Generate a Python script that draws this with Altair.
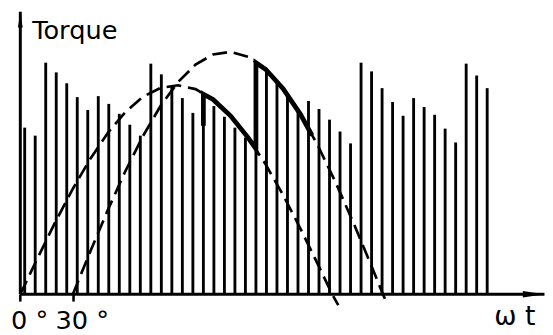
import altair as alt
import pandas as pd

FONT = "DejaVu Sans"

# --- stems (pulse torque), angle in degrees, torque in arbitrary units ---
stem_angle = [2.5, 8.5, 14.5, 20.5, 26.5, 32.5, 38.5, 44.5, 50.5, 56.5,
              62.5, 68.5, 74.5, 80.5, 86.5, 92.5, 98.5, 104.5, 110.5, 116.5,
              122.5, 128.5, 134.5, 140.5, 146.5, 152.5, 158.5, 164.5, 170.5, 176.5,
              182.5, 188.5, 194.5, 200.5, 206.5, 212.5, 218.5, 224.5, 230.5, 236.5,
              242.5, 248.5, 254.5, 260.5, 266.5]
stem_torque = [68.7, 65.4, 95.5, 91.5, 87.0, 81.3, 76.0, 81.7, 78.5, 74.4,
               69.9, 65.4, 95.1, 90.7, 85.8, 80.9, 74.8, 82.5, 77.6, 73.2,
               68.7, 64.6, 95.1, 91.9, 87.0, 81.7, 76.4, 79.7, 76.4, 72.0,
               67.1, 62.2, 95.5, 91.9, 85.0, 79.3, 73.6, 80.9, 77.2, 74.0,
               68.3, 62.6, 95.1, 90.2, 85.0]

# --- dashed envelope curves ---
c1_angle = [0, 10, 20, 30, 40, 50, 60, 70, 80, 90, 100, 110, 120, 130, 140,
            150, 160, 170, 178, 181.5]
c1_torque = [0, 15.1, 29.8, 43.5, 55.9, 66.6, 75.1, 81.4, 85.1, 86.2, 84.6,
             80.3, 73.6, 64.6, 53.6, 40.9, 26.9, 12.1, 0, -4.5]
c2_angle = [30, 40, 50, 60, 70, 80, 90, 100, 110, 120, 130, 140, 150, 160,
            170, 180, 190, 200, 207, 209]
c2_torque = [0, 17.7, 34.8, 50.8, 65.2, 77.6, 87.5, 94.7, 98.9, 100, 97.9,
             92.8, 84.8, 74.1, 61.1, 46.1, 29.7, 12.4, 0, -3.5]

# --- thick highlighted torque path ---
thick_angle = [104.5, 104.5, 110, 120, 130, 134.5, 134.5, 140, 150, 160, 166.5]
thick_torque = [69.5, 82.5, 80.3, 73.6, 64.6, 60.0, 95.5, 92.8, 84.8, 74.1, 65.5]

# --- axes extents and ticks ---
x_axis_span = [-0.3, 299.2]
y_axis_top = 116.5
x_tick_values = [0, 30]

stems_df = pd.DataFrame({"angle": stem_angle, "torque": stem_torque})
curves_df = pd.concat([
    pd.DataFrame({"angle": c1_angle, "torque": c1_torque, "curve": "a",
                  "idx": range(len(c1_angle))}),
    pd.DataFrame({"angle": c2_angle, "torque": c2_torque, "curve": "b",
                  "idx": range(len(c2_angle))}),
])
thick_df = pd.DataFrame({"angle": thick_angle, "torque": thick_torque,
                         "idx": range(len(thick_angle))})
axes_df = pd.DataFrame({
    "line": ["x", "x", "y", "y"],
    "angle": [x_axis_span[0], x_axis_span[1], 0, 0],
    "torque": [0, 0, 0, y_axis_top],
    "idx": [0, 1, 0, 1],
})
arrow_y_df = pd.DataFrame({"angle": [0], "torque": [y_axis_top]})
arrow_x_df = pd.DataFrame({"angle": [x_axis_span[1]], "torque": [0]})

x_axis = alt.Axis(
    values=x_tick_values, labelExpr="datum.value + ' °'", domain=False, grid=False,
    tickSize=7, tickWidth=2.6, tickColor="black",
    labelFont=FONT, labelFontSize=26, labelColor="black", labelPadding=7,
    labelAlign="center", labelOffset=9, labelFlush=False, labelOverlap=False,
    offset=-39,
    titleFont=FONT, titleFontSize=27, titleFontWeight="normal", titleColor="black",
    titleX=514, titleY=31, titleAlign="center", titleBaseline="alphabetic",
)
y_axis = alt.Axis(
    labels=False, ticks=False, domain=False, grid=False,
    titleFont=FONT, titleFontSize=26, titleFontWeight="normal", titleColor="black",
    titleAngle=0, titleX=24, titleY=29, titleAlign="left", titleBaseline="alphabetic",
)

X = alt.X("angle:Q", title="ω t", axis=x_axis,
          scale=alt.Scale(domain=[-7.03, 299.5], nice=False, zero=False))
Y = alt.Y("torque:Q", title="Torque", axis=y_axis,
          scale=alt.Scale(domain=[-15.85, 117.07], nice=False, zero=False))

stems = alt.Chart(stems_df).mark_rule(color="black", strokeWidth=2.9).encode(
    x=X, y=Y, y2=alt.datum(0))
curves = alt.Chart(curves_df).mark_line(
    color="black", strokeWidth=2.7, strokeDash=[15, 7]).encode(
    x=X, y=Y, detail="curve:N", order="idx:Q")
thick = alt.Chart(thick_df).mark_line(
    color="black", strokeWidth=4.8, strokeJoin="miter", strokeCap="butt").encode(
    x=X, y=Y, order="idx:Q")
axes = alt.Chart(axes_df).mark_line(color="black", strokeWidth=3).encode(
    x=X, y=Y, detail="line:N", order="idx:Q")
arrow_y = alt.Chart(arrow_y_df).mark_point(
    shape="M0,0L0.3,2L-0.3,2Z", size=256, filled=True, color="black",
    opacity=1, strokeWidth=0).encode(x=X, y=Y)
arrow_x = alt.Chart(arrow_x_df).mark_point(
    shape="M0,0L-2,-0.3L-2,0.3Z", size=484, filled=True, color="black",
    opacity=1, strokeWidth=0).encode(x=X, y=Y)

chart = alt.layer(stems, curves, thick, axes, arrow_y, arrow_x).properties(
    width=545, height=327, padding=0, background="white",
    autosize=alt.AutoSizeParams(type="none"),
).configure_view(stroke=None)

chart.save("out.html", embed_options={"renderer": "svg", "actions": False})
